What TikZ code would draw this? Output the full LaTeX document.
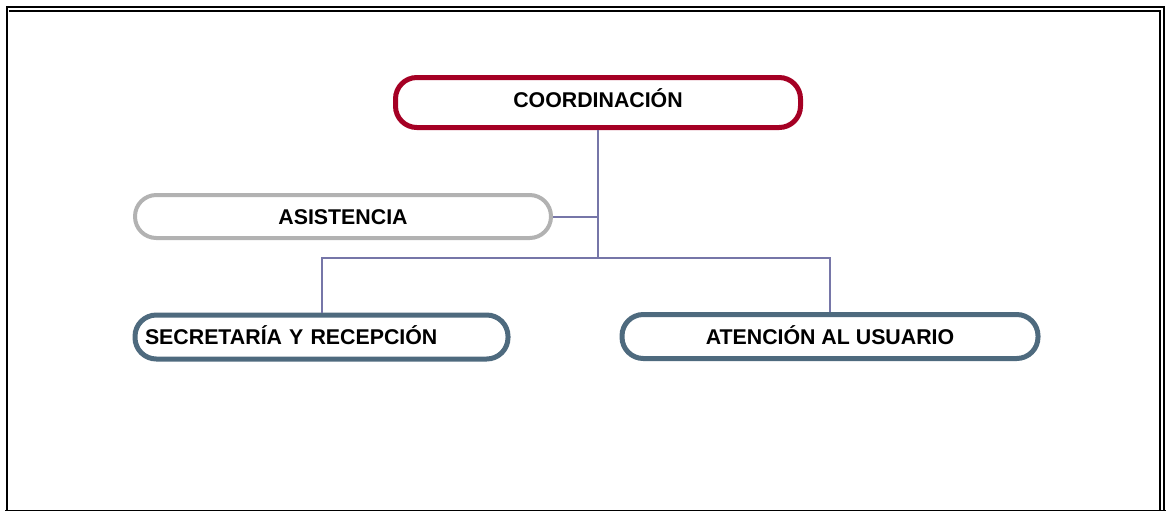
\documentclass[tikz,border=0pt]{standalone}
\usepackage{fontspec}
\setmainfont{Liberation Sans}

\definecolor{coordred}{RGB}{165,0,36}
\definecolor{asisgray}{RGB}{178,178,178}
\definecolor{areablue}{RGB}{78,106,126}
\definecolor{linkpurple}{RGB}{118,118,168}

\begin{document}
\begin{tikzpicture}[x=0.75pt,y=-0.75pt,
  unit/.style={rounded corners=16pt,font=\fontsize{16pt}{19pt}\selectfont\bfseries,
    inner sep=0pt,align=center,text height=11.5pt,text depth=0pt},
  head/.style={unit,draw=coordred,line width=3.75pt,minimum width=303.75pt,minimum height=37.5pt,text depth=4.5pt},
  staff/.style={unit,draw=asisgray,line width=3pt,minimum width=312pt,minimum height=32.25pt},
  area/.style={unit,draw=areablue,line width=3.75pt,minimum height=33pt},
  link/.style={draw=linkpurple,line width=1.5pt}]

\useasboundingbox (0,0) rectangle (1167,512);

% Page frame (double at top and right)
\draw[line width=2.2pt] (7,510.5) -- (7,7) -- (1164,7) -- (1164,510.5);
\draw[line width=0.8pt] (5,510.5) -- (1166,510.5);
\draw[line width=0.8pt] (9,11) -- (1160,11) -- (1160,510.5);

% Boxes
\node[head] (coord) at (598,102.5) {COORDINACIÓN};
\node[staff] (asis) at (343,216.5) {ASISTENCIA};
\node[area,inner xsep=7.5pt,text width=264.75pt,align=left] (secr) at (321.5,337) {SECRETARÍA Y RECEPCIÓN};
\node[area,minimum width=312pt] (aten) at (830,336.5) {ATENCIÓN AL USUARIO};

% Connectors
\coordinate (hub) at (598,258);
\draw[link] (coord.south) -- (hub);
\draw[link] (asis.east) -- (asis.east -| coord.south);
\draw[link] (secr.north) |- (hub) -| (aten.north);

\end{tikzpicture}
\end{document}
